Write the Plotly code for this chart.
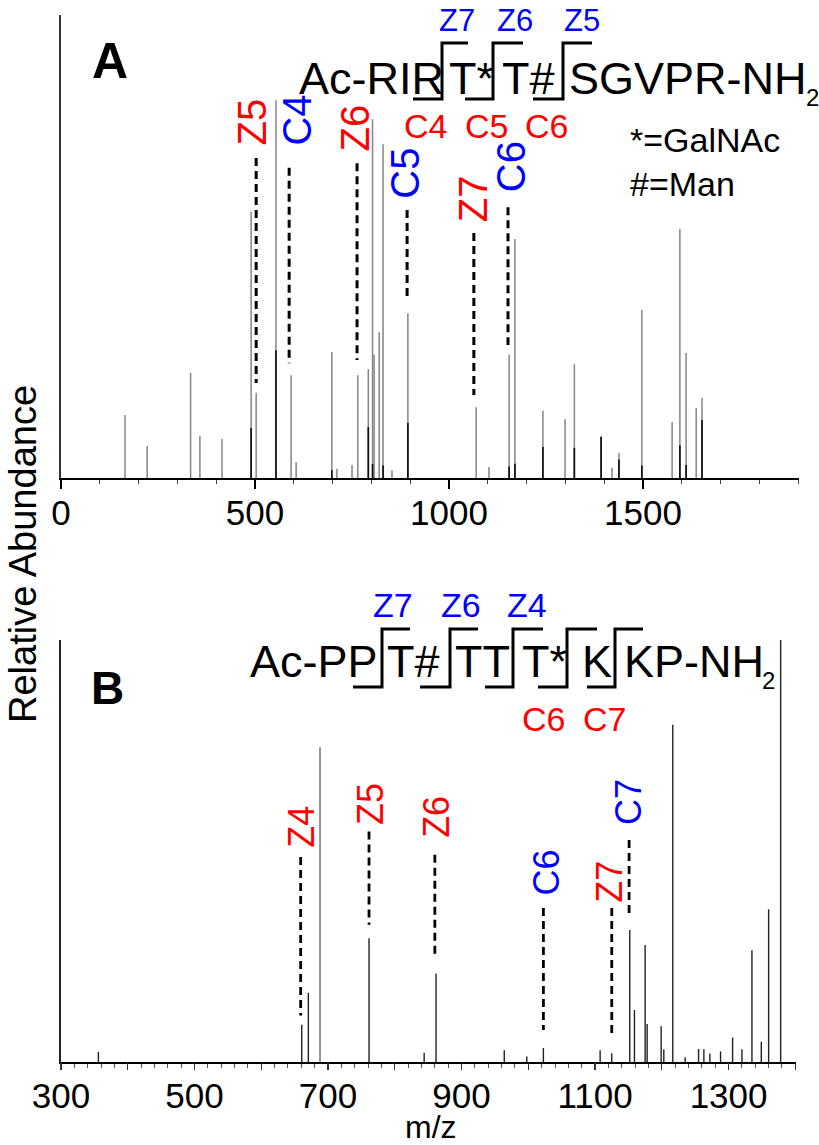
import plotly.graph_objects as go

W, H = 819, 1145
FONT = "Liberation Sans, Arial, Helvetica, sans-serif"

# ---------------- Panel A data ----------------
mzA = [165, 222, 334, 358, 415, 490, 503, 554, 593, 606, 698, 711, 750, 765, 792,
       803, 807, 820, 830, 853, 894, 1070, 1103, 1155, 1170, 1242, 1299, 1323,
       1392, 1420, 1438, 1497, 1575, 1595, 1611, 1637, 1652]
intA = [13.6, 6.9, 22.7, 9.1, 8.4, 57.5, 18.4, 81.6, 22.2, 3.4, 27.2, 2.0, 2.8, 22.2, 23.5,
        77.5, 26.6, 31.5, 72.1, 1.7, 35.6, 15.3, 2.4, 26.6, 51.6, 14.5, 12.7, 24.6,
        8.9, 2.2, 5.4, 36.3, 12.1, 53.8, 27.0, 15.1, 17.3]
mzA_dark = [490, 554, 698, 792, 803, 830, 894, 1155, 1170, 1242, 1323, 1392, 1438, 1497,
            1595, 1611, 1652]
intA_dark = [10.8, 27.6, 1.7, 11.0, 3.0, 2.7, 11.9, 2.5, 3.1, 6.7, 6.5, 8.9, 4.0, 2.7,
             7.1, 2.8, 12.5]

ionsA_name = ["Z5", "C4", "Z6", "C5", "Z7", "C6"]
ionsA_color = ["red", "blue", "red", "blue", "red", "blue"]
ionsA_mz = [503, 588, 763, 892, 1064, 1152]

# ---------------- Panel B data ----------------
mzB = [356, 660.6, 670.5, 761.4, 844, 861.8, 964, 997.7, 1022.6, 1107.6, 1125,
       1152, 1159, 1175, 1178, 1199, 1203, 1216.4, 1235, 1255, 1263, 1272, 1288,
       1306, 1320, 1335, 1349, 1360, 1378]
intB = [2.4, 8.8, 16.4, 29.3, 2.2, 21.0, 2.8, 1.3, 3.3, 2.8, 2.1,
        31.3, 12.3, 27.7, 9.0, 8.5, 3.0, 79.9, 1.1, 3.1, 3.0, 2.0, 2.5,
        5.8, 3.0, 26.5, 4.8, 36.2, 100.0]
mzB_gray = [688]
intB_gray = [74.6]

ionsB_name = ["Z4", "Z5", "Z6", "C6", "Z7", "C7"]
ionsB_color = ["red", "red", "red", "blue", "red", "blue"]
ionsB_mz = [659, 761.4, 860, 1022.6, 1125, 1151]

# tick labels
ticksA = [0, 500, 1000, 1500]
ticksB = [300, 500, 700, 900, 1100, 1300]
ticksB_major = list(range(300, 1401, 100))

# ---------------- layout helpers (positions) ----------------
def px(x):
    return x / W

def py(y):
    return 1 - y / H

# dashed connector extents (data units) and label bases
dashA_top = [69.1, 67.0, 68.0, 57.9, 52.9, 58.5]
dashA_bot = [20.5, 24.8, 25.5, 38.9, 17.9, 28.7]
labA_base = [71.3, 71.3, 70.0, 59.8, 54.9, 61.4]
labA_shift = [-4, 8, -2, -2, -1, 3]

dashB_top = [48.6, 54.6, 49.1, 36.5, 36.5, 52.6]
dashB_bot = [11.0, 32.5, 24.6, 7.6, 5.7, 34.4]
labB_base = [50.2, 55.7, 52.6, 39.1, 37.2, 55.7]
labB_shift = [0, 2, 1, 3, -3, 0]


def sticks(mz, inten):
    xs, ys = [], []
    for m, v in zip(mz, inten):
        xs += [m, m, None]
        ys += [0, v, None]
    return xs, ys


fig = go.Figure()

# Panel A sticks
x, y = sticks(mzA, intA)
fig.add_trace(go.Scatter(x=x, y=y, mode="lines", line=dict(color="#858585", width=1.5),
                         xaxis="x", yaxis="y", hoverinfo="skip"))
x, y = sticks(mzA_dark, intA_dark)
fig.add_trace(go.Scatter(x=x, y=y, mode="lines", line=dict(color="#111111", width=1.7),
                         xaxis="x", yaxis="y", hoverinfo="skip"))
# Panel B sticks
x, y = sticks(mzB, intB)
fig.add_trace(go.Scatter(x=x, y=y, mode="lines", line=dict(color="#222222", width=1.4),
                         xaxis="x2", yaxis="y2", hoverinfo="skip"))
x, y = sticks(mzB_gray, intB_gray)
fig.add_trace(go.Scatter(x=x, y=y, mode="lines", line=dict(color="#858585", width=1.7),
                         xaxis="x2", yaxis="y2", hoverinfo="skip"))
# empty traces so the overlay tick axes are drawn
fig.add_trace(go.Scatter(x=[], y=[], xaxis="x3", yaxis="y", hoverinfo="skip"))
fig.add_trace(go.Scatter(x=[], y=[], xaxis="x4", yaxis="y2", hoverinfo="skip"))

annotations = []

# dashed connectors + rotated labels
for i, name in enumerate(ionsA_name):
    fig.add_trace(go.Scatter(x=[ionsA_mz[i], ionsA_mz[i]], y=[dashA_top[i], dashA_bot[i]],
                             mode="lines", line=dict(color="black", width=3, dash="8px,5px"),
                             xaxis="x", yaxis="y", hoverinfo="skip"))
    annotations.append(dict(x=ionsA_mz[i], y=labA_base[i], xref="x", yref="y", text=name,
                            textangle=-90, showarrow=False, xanchor="center", yanchor="bottom",
                            xshift=labA_shift[i],
                            font=dict(family=FONT, size=40, color=ionsA_color[i])))
for i, name in enumerate(ionsB_name):
    fig.add_trace(go.Scatter(x=[ionsB_mz[i], ionsB_mz[i]], y=[dashB_top[i], dashB_bot[i]],
                             mode="lines", line=dict(color="black", width=2.8, dash="8px,5px"),
                             xaxis="x2", yaxis="y2", hoverinfo="skip"))
    annotations.append(dict(x=ionsB_mz[i], y=labB_base[i], xref="x2", yref="y2", text=name,
                            textangle=-90, showarrow=False, xanchor="center", yanchor="bottom",
                            xshift=labB_shift[i],
                            font=dict(family=FONT, size=36, color=ionsB_color[i])))


def txt(s, x, y, size, color="black", xanchor="left", yanchor="middle", bold=False, angle=0):
    annotations.append(dict(x=px(x), y=py(y), xref="paper", yref="paper",
                            text=("<b>%s</b>" % s) if bold else s, showarrow=False,
                            xanchor=xanchor, yanchor=yanchor, textangle=angle,
                            font=dict(family=FONT, size=size, color=color)))

# Panel letters
txt("A", 110, 61, 50, xanchor="center", bold=True)
txt("B", 107, 688, 46, xanchor="center", bold=True)

# Sequence A
seqA = [("Ac-RIR", 297), ("T*", 447), ("T#", 500), ("SGVPR-NH", 567)]
for s, x0 in seqA:
    txt(s, x0, 79, 45)
txt("2", 804, 97, 24)
for s, xc in [("Z7", 457), ("Z6", 515), ("Z5", 582)]:
    txt(s, xc, 0.5, 31, color="blue", xanchor="center", yanchor="top")
for s, xc in [("C4", 425), ("C5", 486), ("C6", 546)]:
    txt(s, xc, 126, 34, color="red", xanchor="center")
txt("*=GalNAc", 628, 140, 34)
txt("#=Man", 628, 184, 34)

# Sequence B
seqB = [("Ac-PP", 248), ("T#", 385), ("TT", 453), ("T*", 520), ("K", 580), ("KP-NH", 622)]
for s, x0 in seqB:
    txt(s, x0, 661, 45)
txt("2", 760, 680, 24)
for s, xc in [("Z7", 393), ("Z6", 461), ("Z4", 527)]:
    txt(s, xc, 605, 34, color="blue", xanchor="center")
for s, xc in [("C6", 543), ("C7", 604)]:
    txt(s, xc, 719, 34, color="red", xanchor="center")

# axis titles
txt("Relative Abundance", 0, 554, 38, xanchor="left", angle=-90)
txt("m/z", 431, 1147, 32, xanchor="center", yanchor="bottom")

# bracket shapes (cleavage markers)
shapes = []
def bracket(x0, x1, x2, ylow, yhigh):
    path = "M %f %f L %f %f L %f %f L %f %f" % (px(x0), py(ylow), px(x1), py(ylow),
                                             px(x1), py(yhigh), px(x2), py(yhigh))
    shapes.append(dict(type="path", path=path, xref="paper", yref="paper",
                       line=dict(color="black", width=3)))

for b in [(413, 442, 468), (465, 493, 523), (533, 563, 592)]:
    bracket(b[0], b[1], b[2], 99, 43)
for b in [(353, 382, 410), (420, 450, 478), (485, 513, 543), (538, 567, 597), (587, 615, 643)]:
    bracket(b[0], b[1], b[2], 687, 629)

tickfont = dict(family=FONT, size=35, color="black")
domA = [px(61), px(799)]
domB = [px(61), px(796)]
rangeA = [0, 1902]
rangeB = [300, 1401]
fig.update_layout(
    width=W, height=H, margin=dict(l=0, r=0, t=0, b=0, autoexpand=False),
    paper_bgcolor="white", plot_bgcolor="white", showlegend=False,
    xaxis=dict(domain=domA, range=rangeA, anchor="y", automargin=False,
               showline=True, linecolor="black", linewidth=2, zeroline=False, showgrid=False,
               tickmode="array", tickvals=ticksA, ticktext=[str(t) for t in ticksA],
               ticks="outside", ticklen=3, tickwidth=1.2, tickcolor="black",
               tickfont=tickfont,
               minor=dict(tickmode="linear", tick0=0, dtick=100, ticks="outside",
                          ticklen=4, tickwidth=1, tickcolor="#444")),
    xaxis3=dict(overlaying="x", range=rangeA, anchor="y", automargin=False, side="bottom",
                showline=False, zeroline=False, showgrid=False,
                tickmode="array", tickvals=ticksA, showticklabels=False,
                ticks="outside", ticklen=10, tickwidth=1.5, tickcolor="black"),
    yaxis=dict(domain=[py(478), py(15)], range=[0, 100], anchor="x", automargin=False,
               showline=True, linecolor="#333", linewidth=2, zeroline=False,
               showgrid=False, showticklabels=False, ticks=""),
    xaxis2=dict(domain=domB, range=rangeB, anchor="y2", automargin=False,
                showline=True, linecolor="black", linewidth=2, zeroline=False, showgrid=False,
                tickmode="array", tickvals=ticksB, ticktext=[str(t) for t in ticksB],
                ticks="outside", ticklen=2, tickwidth=1, tickcolor="#333",
                tickfont=tickfont,
                minor=dict(tickmode="linear", tick0=300, dtick=20, ticks="outside",
                           ticklen=4, tickwidth=1, tickcolor="#555")),
    xaxis4=dict(overlaying="x2", range=rangeB, anchor="y2", automargin=False, side="bottom",
                showline=False, zeroline=False, showgrid=False,
                tickmode="array", tickvals=ticksB_major, showticklabels=False,
                ticks="outside", ticklen=7, tickwidth=1.2, tickcolor="#333"),
    yaxis2=dict(domain=[py(1062), py(640)], range=[0, 100], anchor="x2", automargin=False,
                showline=True, linecolor="#222", linewidth=2, zeroline=False,
                showgrid=False, showticklabels=False, ticks=""),
    annotations=annotations, shapes=shapes,
)

fig.write_html("out.html", config={"staticPlot": True, "displayModeBar": False},
               post_script="document.body.style.margin='0';document.body.style.overflow='hidden';")
